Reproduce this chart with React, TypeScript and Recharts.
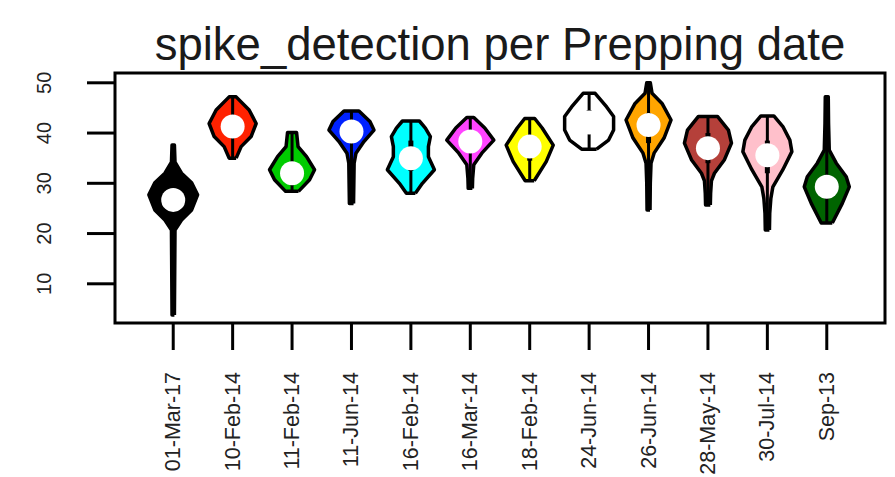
import React from 'react';
import { ComposedChart, XAxis, YAxis, Scatter, ReferenceArea } from 'recharts';

const dates = ['01-Mar-17', '10-Feb-14', '11-Feb-14', '11-Jun-14', '16-Feb-14', '16-Mar-14', '18-Feb-14', '24-Jun-14', '26-Jun-14', '28-May-14', '30-Jul-14', 'Sep-13'];
const fills = ['#000000', '#ff2200', '#00cc00', '#0022ff', '#00ffff', '#ff44ff', '#ffff00', '#ffffff', '#ffa500', '#b5403a', '#ffc0cb', '#006400'];
const medians = [26.7, 41.3, 32.0, 40.3, 35.0, 38.3, 37.3, 42.1, 41.6, 37.0, 35.6, 29.3];
const q1s = [24.0, 39.0, 30.5, 38.5, 32.5, 36.5, 34.5, 40.0, 38.0, 34.0, 32.0, 27.0];
const q3s = [29.0, 43.5, 34.0, 42.0, 38.5, 40.0, 39.5, 44.5, 44.0, 40.0, 38.5, 31.5];
const yTicks = [10, 20, 30, 40, 50];

// density profiles: [level, half-width in category units]
const prof01Mar17 = [[3.8, 0.02], [20.7, 0.03], [22.7, 0.14], [24.7, 0.31], [27.7, 0.41], [30.1, 0.31], [32, 0.14], [34.2, 0.03], [37.6, 0.02]];
const prof10Feb14 = [[35, 0.059], [37.3, 0.143], [39.3, 0.311], [41.9, 0.396], [44.6, 0.278], [47.2, 0.059]];
const prof11Feb14 = [[28.4, 0.109], [30.7, 0.295], [32.7, 0.379], [35.3, 0.244], [37.3, 0.101], [40.1, 0.076]];
const prof11Jun14 = [[26, 0.035], [34, 0.045], [36, 0.076], [38.3, 0.21], [40.6, 0.379], [42.3, 0.311], [44.4, 0.126]];
const prof16Feb14 = [[28, 0.076], [30, 0.194], [32.7, 0.396], [35.3, 0.295], [37.3, 0.295], [39.3, 0.328], [41, 0.244], [42.4, 0.143]];
const prof16Mar14 = [[29, 0.035], [31, 0.04], [33.7, 0.059], [36, 0.194], [38.6, 0.396], [41, 0.244], [43.1, 0.059]];
const prof18Feb14 = [[30.5, 0.076], [34.3, 0.278], [37.6, 0.396], [41, 0.21], [42.9, 0.084]];
const prof24Jun14 = [[36.8, 0.126], [38.6, 0.328], [40.6, 0.412], [43.3, 0.412], [45.2, 0.295], [47.9, 0.101]];
const prof26Jun14 = [[24.7, 0.025], [30, 0.03], [34, 0.042], [36, 0.093], [39, 0.261], [42.6, 0.379], [45.9, 0.227], [47.9, 0.059], [50, 0.03]];
const prof28May14 = [[25.7, 0.04], [28, 0.045], [30.5, 0.059], [32, 0.109], [34.7, 0.278], [38, 0.396], [40.6, 0.345], [43.3, 0.16]];
const prof30Jul14 = [[20.7, 0.035], [24, 0.04], [27, 0.059], [29.3, 0.093], [32.7, 0.261], [36.3, 0.412], [38.6, 0.379], [41.3, 0.261], [43.4, 0.109]];
const profSep13 = [[22.1, 0.093], [26, 0.261], [29.3, 0.379], [31.3, 0.328], [34, 0.16], [36.6, 0.042], [42, 0.03], [47.2, 0.025]];

const profiles = [prof01Mar17, prof10Feb14, prof11Feb14, prof11Jun14, prof16Feb14, prof16Mar14, prof18Feb14, prof24Jun14, prof26Jun14, prof28May14, prof30Jul14, profSep13];

const polygonFor = (i: number) => {
  const c = i + 1;
  const p = profiles[i];
  const right = p.map(([v, w]) => ({ x: c + w, y: v }));
  const left = [...p].reverse().map(([v, w]) => ({ x: c - w, y: v }));
  const pts = [...right, ...left];
  pts.push(pts[0]);
  return pts;
};

const medianData = medians.map((m, i) => ({ x: i + 1, y: m }));

const FONT = '"Liberation Sans", Arial, Helvetica, sans-serif';

const YTick = (props: any) => {
  const { x, y, payload } = props;
  return (
    <text transform={`translate(${x - 43}, ${y}) rotate(-90)`} textAnchor="middle" dominantBaseline="central" fontSize={20} fill="#222" fontFamily={FONT}>
      {payload.value}
    </text>
  );
};

const XTick = (props: any) => {
  const { x, y, payload } = props;
  const label = dates[Math.round(payload.value) - 1] ?? '';
  return (
    <text transform={`translate(${x}, ${y + 22}) rotate(-90)`} textAnchor="end" dominantBaseline="central" fontSize={21.5} fill="#222" fontFamily={FONT}>
      {label}
    </text>
  );
};

const noShape = () => <g />;
const medianShape = (p: any) => <circle cx={p.cx} cy={p.cy} r={12} fill="#ffffff" />;

export default function App() {
  return (
    <div style={{ position: 'absolute', left: 0, top: 0, width: 895, height: 477, background: '#fff' }}>
      <div style={{ position: 'absolute', left: 0, width: 1000, top: 22, textAlign: 'center', fontFamily: FONT, fontSize: 45.5, lineHeight: '46px', color: '#1a1a1a', whiteSpace: 'nowrap' }}>
        spike_detection per Prepping date
      </div>
      <ComposedChart width={895} height={477} margin={{ top: 73, right: 10, bottom: 0, left: 0 }}>
        <XAxis
          type="number"
          dataKey="x"
          domain={[0.02, 12.98]}
          ticks={[1, 2, 3, 4, 5, 6, 7, 8, 9, 10, 11, 12]}
          allowDataOverflow
          height={154}
          axisLine={false}
          tickLine={{ stroke: '#000', strokeWidth: 3 }}
          tickSize={27}
          tickMargin={0}
          tick={<XTick />}
          interval={0}
        />
        <YAxis
          type="number"
          dataKey="y"
          domain={[2.2, 51.95]}
          ticks={yTicks}
          allowDataOverflow
          width={115}
          axisLine={false}
          tickLine={{ stroke: '#000', strokeWidth: 3 }}
          tickSize={28}
          tickMargin={0}
          tick={<YTick />}
          interval={0}
        />
        {profiles.map((_, i) => (
          <Scatter
            key={`v${i}`}
            data={polygonFor(i)}
            line={{ fill: fills[i], stroke: '#000', strokeWidth: 3.5, strokeLinejoin: 'round' }}
            lineType="joint"
            shape={noShape}
            isAnimationActive={false}
            legendType="none"
          />
        ))}
        {profiles.map((p, i) => (
          <Scatter
            key={`w${i}`}
            data={[{ x: i + 1, y: p[0][0] }, { x: i + 1, y: p[p.length - 1][0] }]}
            line={{ stroke: '#000', strokeWidth: 3 }}
            lineType="joint"
            shape={noShape}
            isAnimationActive={false}
            legendType="none"
          />
        ))}
        {q1s.map((q, i) => (
          <Scatter
            key={`b${i}`}
            data={[{ x: i + 1, y: q }, { x: i + 1, y: q3s[i] }]}
            line={{ stroke: '#000', strokeWidth: 5 }}
            lineType="joint"
            shape={noShape}
            isAnimationActive={false}
            legendType="none"
          />
        ))}
        <Scatter data={medianData} shape={medianShape} isAnimationActive={false} legendType="none" />
        <ReferenceArea x1={0.02} x2={12.98} y1={2.2} y2={51.95} fill="none" stroke="#000" strokeWidth={3} ifOverflow="visible" />
      </ComposedChart>
    </div>
  );
}
